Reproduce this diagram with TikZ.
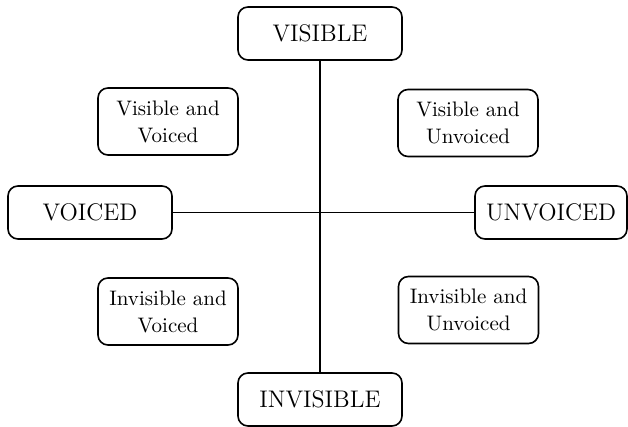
\documentclass[tikz,border=0pt]{standalone}
\begin{document}
\begin{tikzpicture}
        [x=0.5pt, y=-0.5pt,
        pole/.style={draw, thick, rounded corners=5pt, minimum width=82pt, minimum height=26.5pt, inner sep=0pt, font=\fontsize{12}{14}\selectfont},
        quad/.style={draw, thick, rounded corners=5pt, minimum width=70pt, minimum height=33.5pt, inner sep=0pt, align=center, font=\fontsize{10.5}{13.5}\selectfont},
        axis/.style={thick, black}]

        \useasboundingbox (0,0) rectangle (628,427);

        % the four poles
        \node[pole] (vis) at (320,33.5) {VISIBLE};
        \node[pole] (invis) at (320,399.5) {INVISIBLE};
        \node[pole] (voi) at (90,212.5) {VOICED};
        \node[pole, minimum width=76pt] (unvoi) at (551,212.5) {UNVOICED};

        % the four quadrants
        \node[quad] (visvoi) at (168,121.5) {Visible and\\Voiced};
        \node[quad] (visunvoi) at (468,123) {Visible and\\Unvoiced};
        \node[quad] (invisvoi) at (168,311.5) {Invisible and\\Voiced};
        \node[quad] (invisunvoi) at (468.5,310) {Invisible and\\Unvoiced};

        % axes
        \draw[axis] (vis) -- (invis);
        \draw[axis] (voi) -- (unvoi);

\end{tikzpicture}
\end{document}
